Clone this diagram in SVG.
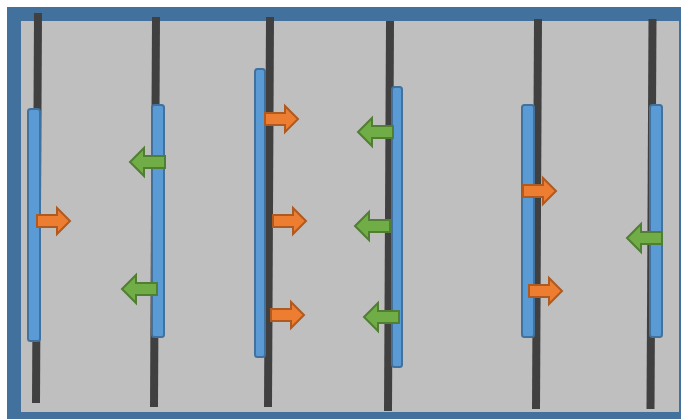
<svg xmlns="http://www.w3.org/2000/svg" xmlns:xlink="http://www.w3.org/1999/xlink" width="681" height="419" viewBox="0 0 681 419">
<style>
.pole{stroke:#404040;stroke-width:8;fill:none}
.bar{fill:#5b9bd5;stroke:#41719c;stroke-width:2}
.ora{fill:#ed7d31;stroke:#ae5a21;stroke-width:2;stroke-linejoin:miter}
.grn{fill:#70ad47;stroke:#507e32;stroke-width:2;stroke-linejoin:miter}
</style>
<defs>
<path id="ar" d="M0,-6 H20 V-13 L33,0 L20,13 V6 H0 Z"/>
<path id="al" d="M0,-6 H-21 V-14 L-35,0 L-21,14 V6 H0 Z"/>
</defs>
<rect width="681" height="419" fill="#ffffff"/>
<g id="frame">
<rect x="14" y="14" width="672" height="405" fill="#bfbfbf" stroke="#41719c" stroke-width="14"/>
</g>
<g id="poles">
<line class="pole" x1="38" y1="13" x2="36" y2="403"/>
<line class="pole" x1="156" y1="17" x2="154" y2="407"/>
<line class="pole" x1="270" y1="17" x2="268" y2="407"/>
<line class="pole" x1="390" y1="21" x2="388" y2="411"/>
<line class="pole" x1="538" y1="19" x2="536" y2="409"/>
<line class="pole" x1="652.5" y1="19" x2="650.5" y2="409"/>
</g>
<g id="bars">
<rect class="bar" x="28" y="109" width="12" height="232" rx="2.5"/>
<rect class="bar" x="152" y="105" width="12" height="232" rx="2.5"/>
<rect class="bar" x="255" y="69" width="10" height="288" rx="2.5"/>
<rect class="bar" x="392" y="87" width="10" height="280" rx="2.5"/>
<rect class="bar" x="522" y="105" width="12" height="232" rx="2.5"/>
<rect class="bar" x="650" y="105" width="12" height="232" rx="2.5"/>
</g>
<g id="connectors">
<use href="#ar" class="ora" x="37" y="221"/>
<use href="#ar" class="ora" x="265" y="119"/>
<use href="#ar" class="ora" x="273" y="221"/>
<use href="#ar" class="ora" x="271" y="315"/>
<use href="#ar" class="ora" x="523" y="191"/>
<use href="#ar" class="ora" x="529" y="291"/>
<use href="#al" class="grn" x="165" y="162"/>
<use href="#al" class="grn" x="157" y="289"/>
<use href="#al" class="grn" x="393" y="132"/>
<use href="#al" class="grn" x="390" y="226"/>
<use href="#al" class="grn" x="399" y="317"/>
<use href="#al" class="grn" x="662" y="238"/>
</g>
</svg>
